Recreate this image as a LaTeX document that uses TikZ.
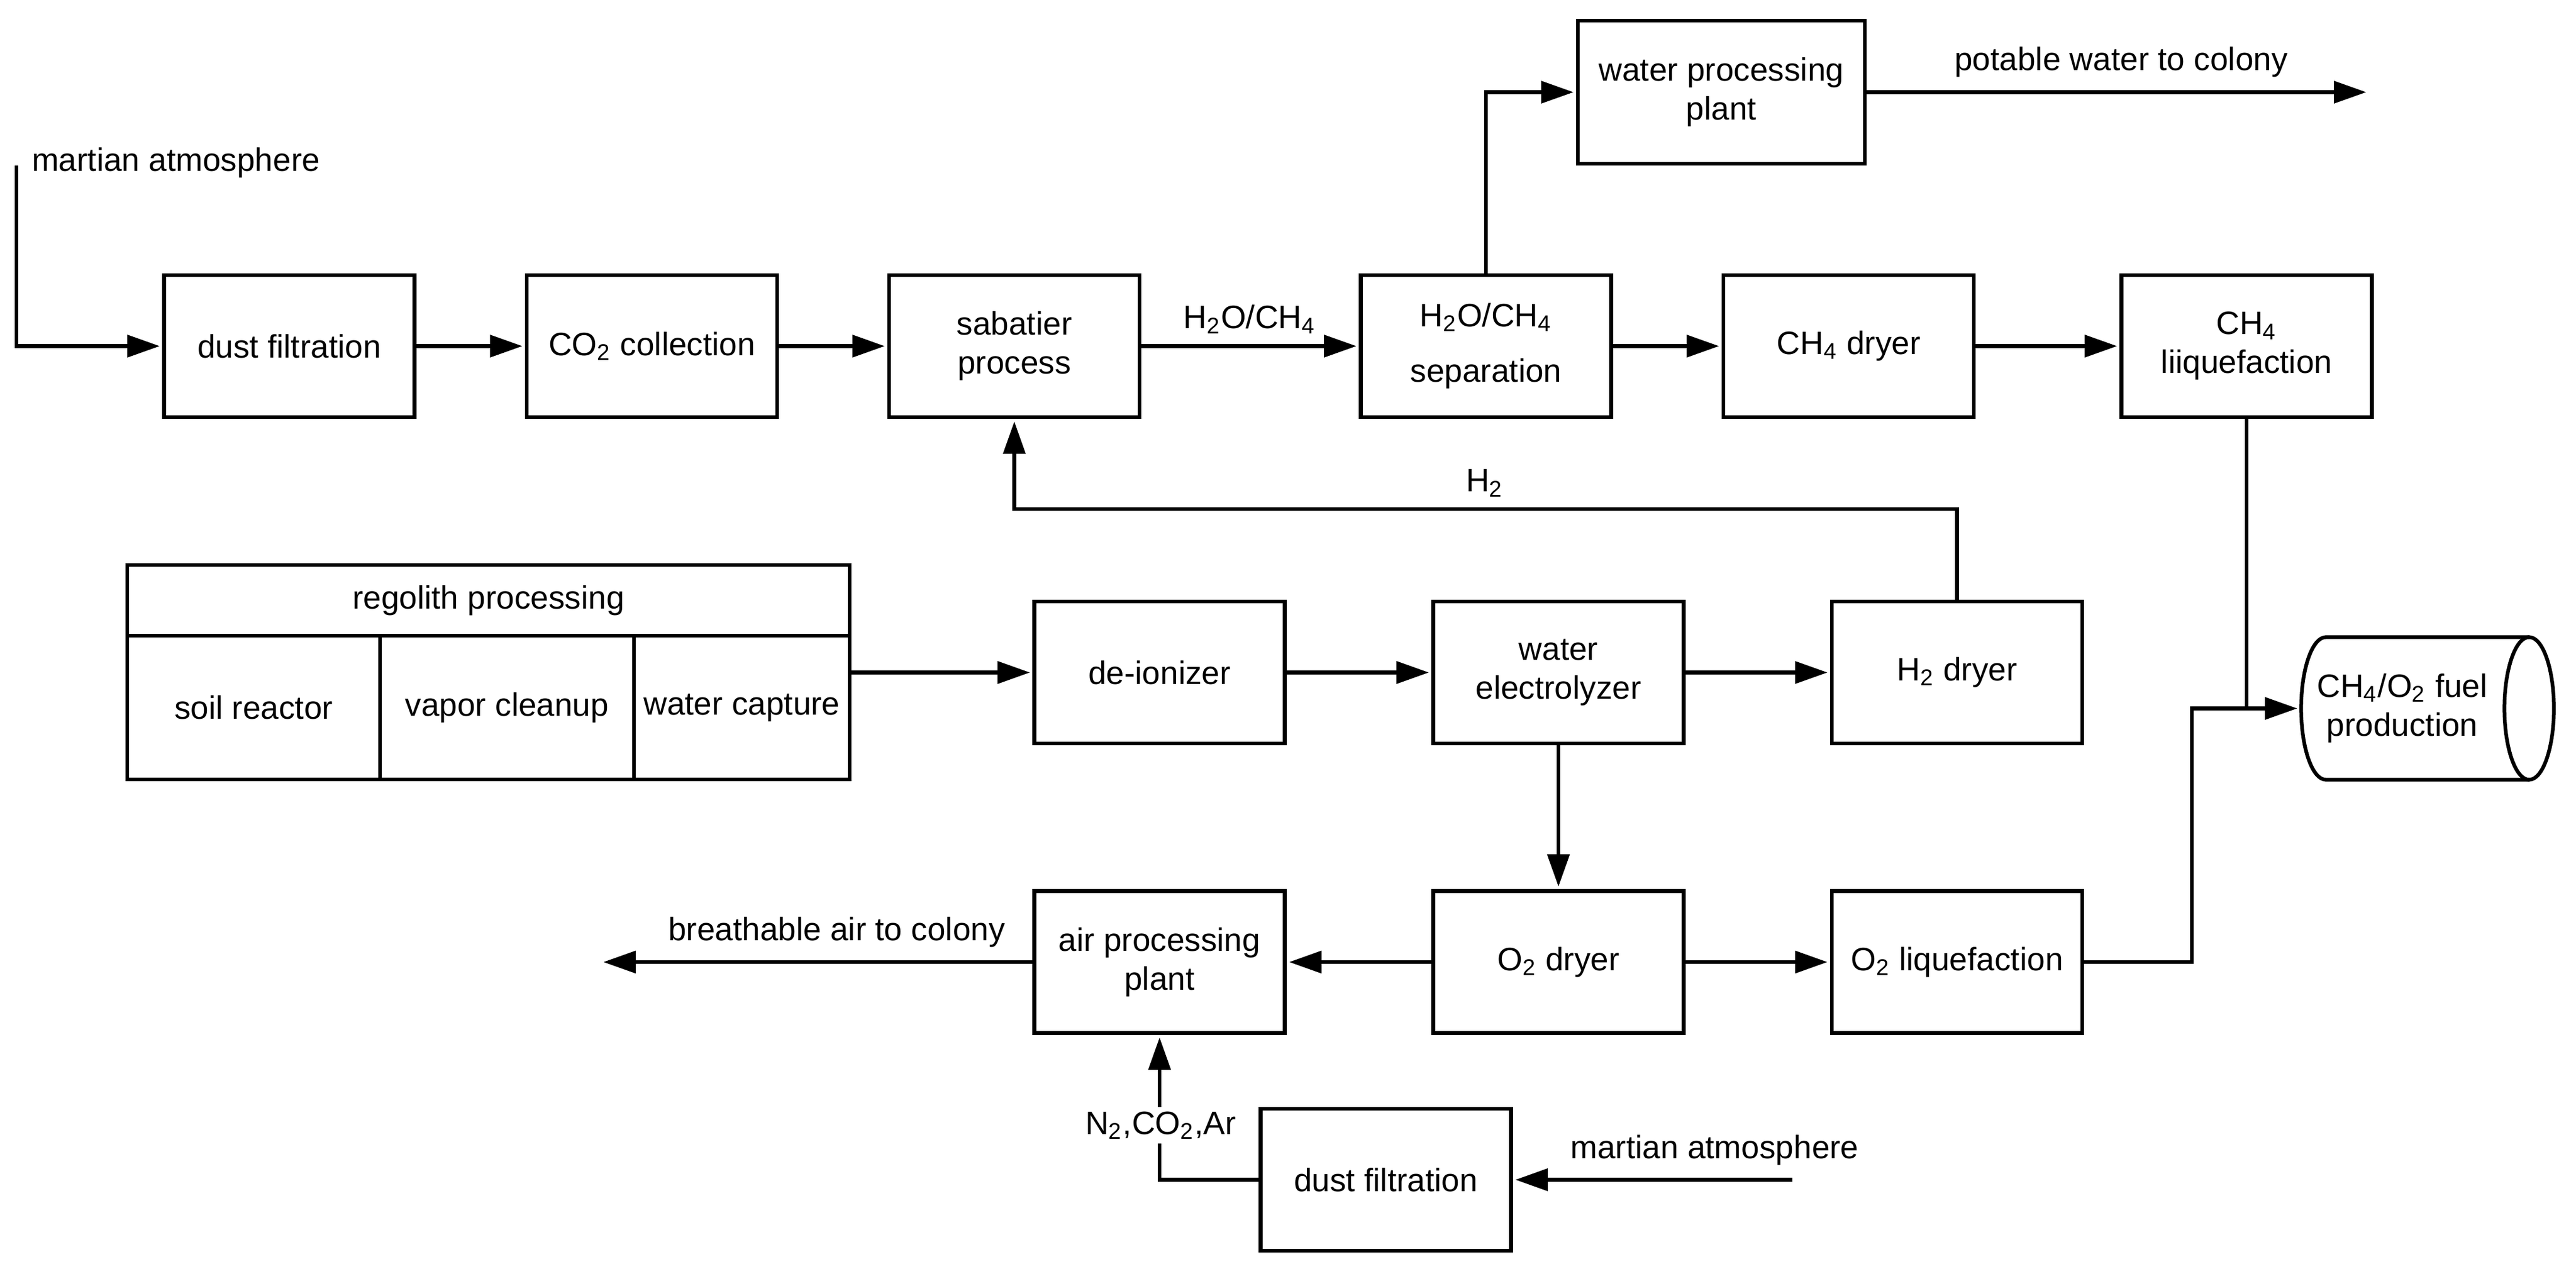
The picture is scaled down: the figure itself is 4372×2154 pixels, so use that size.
\documentclass[tikz,border=0pt]{standalone}
\usepackage{fontspec}
\setmainfont{Liberation Sans}
\usetikzlibrary{arrows.meta}
\begin{document}
\begin{tikzpicture}[x=0.2pt, y=0.2pt, font=\fontsize{11pt}{13.2pt}\selectfont,
  box/.style={draw, line width=1.35pt, minimum width=85pt, minimum height=48.2pt, align=center, inner sep=2pt},
  cell/.style={draw, line width=1.15pt, outer sep=0pt, align=center, inner sep=1pt},
  conn/.style={line width=1.3pt},
  arr/.style={conn, -{Triangle[length=11pt,width=7.4pt]}, shorten >=0.8pt},
  lbl/.style={inner sep=0pt}]
\useasboundingbox (0,0) rectangle (4372,-2154);

% row 1
\node[box] (dust1) at (491,-587.5) {dust filtration};
\node[box] (co2) at (1106.5,-587.5) {CO\textsubscript{2} collection};
\node[box] (sab) at (1721.5,-587.5) {sabatier\\process};
\node[box] (sep) at (2522,-587.5) {H\textsubscript{2}O/CH\textsubscript{4}\\[5.6pt]separation};
\node[box] (ch4d) at (3137.5,-587.5) {CH\textsubscript{4} dryer};
\node[box] (ch4l) at (3813,-587.5) {CH\textsubscript{4}\\liiquefaction};
\node[box, minimum width=97.4pt, minimum height=48.6pt] (wpp) at (2921.5,-156.5) {water processing\\plant};

% regolith processing
\node[cell, minimum width=245.2pt, minimum height=24pt] (reghead) at (829,-1019) {regolith processing};
\node[cell, minimum width=85.8pt, minimum height=48.8pt] (soil) at (430.5,-1201) {soil reactor};
\node[cell, minimum width=86.2pt, minimum height=48.8pt] (vapor) at (860.5,-1201) {vapor cleanup};
\node[cell, minimum width=73.2pt, minimum height=48.8pt] (wcap) at (1259,-1201) {water capture};
\draw[line width=1.35pt] (reghead.north west) rectangle (wcap.south east);

% row 2
\node[box] (deion) at (1968,-1141.5) {de-ionizer};
\node[box] (elec) at (2645,-1141.5) {water\\electrolyzer};
\node[box] (h2d) at (3321.5,-1141.5) {H\textsubscript{2} dryer};

% row 3
\node[box] (air) at (1968,-1633) {air processing\\plant};
\node[box] (o2d) at (2645,-1633) {O\textsubscript{2} dryer};
\node[box] (o2l) at (3321.5,-1633) {O\textsubscript{2} liquefaction};

% row 4
\node[box] (dust2) at (2352,-2002.5) {dust filtration};

% fuel cylinder
\node[lbl, minimum width=69.6pt, minimum height=48.2pt, outer sep=0pt, align=center] (fuel) at (4077,-1202.5) {CH\textsubscript{4}/O\textsubscript{2} fuel\\production};
\draw[line width=1.25pt] (4292.5,-1081.5) -- (3947.5,-1081.5) arc[start angle=90, end angle=270, x radius=42, y radius=121] -- (4292.5,-1323.5);
\draw[line width=1.25pt] (4292.5,-1202.5) ellipse [x radius=42, y radius=121];

% connectors
\coordinate (atm1) at (28,-281);
\draw[arr] (atm1) |- (dust1.west);
\node[lbl, anchor=west] (latm1) at (53,-276) {martian atmosphere};
\draw[arr] (dust1) -- (co2);
\draw[arr] (co2) -- (sab);
\draw[arr] (sab) -- (sep);
\node[lbl] (lh2o) at (2121,-542) {H\textsubscript{2}O/CH\textsubscript{4}};
\draw[arr] (sep) -- (ch4d);
\draw[arr] (ch4d) -- (ch4l);
\draw[arr] (sep.north) |- (wpp.west);
\coordinate (potend) at (4020,-156.5);
\draw[arr] (wpp.east) -- (potend);
\node[lbl] (lpot) at (3600,-105) {potable water to colony};

\coordinate (h2top) at (3321.5,-864);
\draw[arr] (h2d.north) -- (h2top) -| (sab.south);
\node[lbl] (lh2) at (2520,-820) {H\textsubscript{2}};

\draw[arr] (wcap.east |- deion.west) -- (deion.west);
\draw[arr] (deion) -- (elec);
\draw[arr] (elec) -- (h2d);
\draw[arr] (elec) -- (o2d);
\draw[arr] (o2d) -- (air);
\draw[arr] (o2d) -- (o2l);

\coordinate (brend) at (1020,-1633);
\draw[arr] (air.west) -- (brend);
\node[lbl] (lbr) at (1420,-1582) {breathable air to colony};

\draw[arr] (dust2.west) -| (air.south);
\node[lbl, fill=white, inner sep=1.5pt] (ln2) at (1970,-1910) {N\textsubscript{2},CO\textsubscript{2},Ar};

\coordinate (atm2) at (3042,-2002.5);
\draw[arr] (atm2) -- (dust2.east);
\node[lbl] (latm2) at (2910,-1952) {martian atmosphere};

\coordinate (junc) at (3720,-1202.5);
\draw[arr] (o2l.east) -| (junc) -- (fuel.west);
\draw[conn] (ch4l.south) -- (ch4l.south |- fuel.west);
\end{tikzpicture}
\end{document}
